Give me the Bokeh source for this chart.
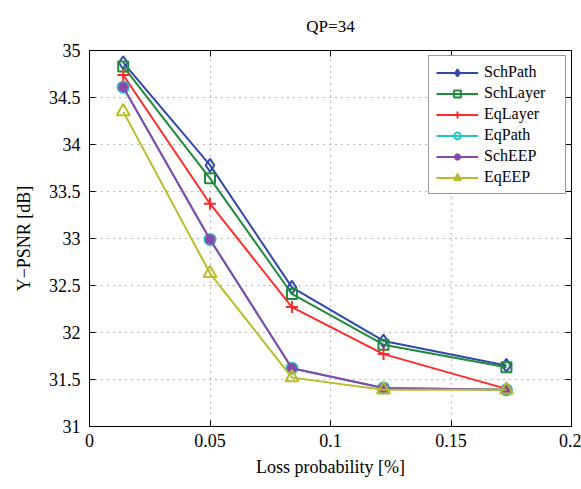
from bokeh.plotting import figure
from bokeh.models import FixedTicker, Legend, LegendItem, LinearAxis, Range1d
from bokeh.embed import file_html
from bokeh.resources import INLINE

x = [0.014, 0.05, 0.084, 0.122, 0.173]
sch_path = [34.87, 33.78, 32.48, 31.91, 31.65]
sch_layer = [34.83, 33.64, 32.41, 31.87, 31.63]
eq_layer = [34.74, 33.37, 32.27, 31.77, 31.40]
eq_path = [34.61, 32.99, 31.62, 31.41, 31.39]
sch_eep = [34.61, 32.99, 31.62, 31.41, 31.39]
eq_eep = [34.35, 32.63, 31.52, 31.39, 31.39]

series_names = ["SchPath", "SchLayer", "EqLayer", "EqPath", "SchEEP", "EqEEP"]
x_ticks = [0, 0.05, 0.1, 0.15, 0.2]
x_tick_labels = ["0", "0.05", "0.1", "0.15", "0.2"]
y_ticks = [31, 31.5, 32, 32.5, 33, 33.5, 34, 34.5, 35]
y_tick_labels = ["31", "31.5", "32", "32.5", "33", "33.5", "34", "34.5", "35"]

FONT = "Liberation Serif"

p = figure(width=581, height=489, output_backend="svg", toolbar_location=None,
           x_range=Range1d(0, 0.2), y_range=Range1d(31, 35),
           min_border_left=89, min_border_right=10, min_border_top=49, min_border_bottom=63)

p.title.text = "QP=34"
p.title.align = "center"
p.title.text_font = FONT
p.title.text_font_size = "17px"
p.title.text_font_style = "normal"
p.title.text_color = "black"
p.title.standoff = 29

p.outline_line_color = "black"
p.outline_line_width = 1
p.background_fill_color = "white"
p.border_fill_color = "white"

for ax in [p.xaxis[0], p.yaxis[0]]:
    ax.major_tick_in = 6
    ax.major_tick_out = 0
    ax.minor_tick_line_color = None
    ax.axis_line_color = "black"
    ax.major_tick_line_color = "black"
    ax.major_label_text_font = FONT
    ax.major_label_text_font_size = "18px"
    ax.major_label_text_color = "black"
    ax.axis_label_text_font = FONT
    ax.axis_label_text_font_size = "18px"
    ax.axis_label_text_font_style = "normal"
    ax.axis_label_text_color = "black"

p.xaxis[0].ticker = FixedTicker(ticks=x_ticks)
p.xaxis[0].major_label_overrides = dict(zip(x_ticks, x_tick_labels))
p.yaxis[0].ticker = FixedTicker(ticks=y_ticks)
p.yaxis[0].major_label_overrides = dict(zip(y_ticks, y_tick_labels))
p.xaxis[0].axis_label = "Loss probability [%]"
p.yaxis[0].axis_label = "Y\u2212PSNR [dB]"
p.xaxis[0].major_label_standoff = 7
p.yaxis[0].major_label_standoff = 9
p.xaxis[0].axis_label_standoff = 7
p.yaxis[0].axis_label_standoff = 12

top = LinearAxis(ticker=FixedTicker(ticks=x_ticks), major_label_text_font_size="0px",
                 major_tick_in=6, major_tick_out=0, minor_tick_line_color=None,
                 axis_line_color="black", major_label_standoff=0)
right = LinearAxis(ticker=FixedTicker(ticks=y_ticks), major_label_text_font_size="0px",
                   major_tick_in=6, major_tick_out=0, minor_tick_line_color=None,
                   axis_line_color="black", major_label_standoff=0)
top.major_label_text_alpha = 0
right.major_label_text_alpha = 0
p.add_layout(top, "above")
p.add_layout(right, "right")

p.xgrid.ticker = FixedTicker(ticks=x_ticks)
p.ygrid.ticker = FixedTicker(ticks=y_ticks)
for g in [p.xgrid[0], p.ygrid[0]]:
    g.grid_line_color = "#777777"
    g.grid_line_dash = "1 5"
    g.grid_line_width = 1

colors = ["#3049A8", "#1E8A3C", "#FF2A2A", "#22C4C4", "#8A45A8", "#B8BC2A"]
markers = ["diamond", "square", "cross", "circle", "asterisk", "triangle"]
sizes = [13, 10, 12, 11, 10, 13]
data = [sch_path, sch_layer, eq_layer, eq_path, sch_eep, eq_eep]

items = []
for name, ys, c, m, s in zip(series_names, data, colors, markers, sizes):
    ln = p.line(x, ys, line_color=c, line_width=2)
    lw = 3 if m == "asterisk" else 2
    sc = p.scatter(x, ys, marker=m, size=s, line_color=c, line_width=lw, fill_color=None)
    items.append(LegendItem(label=name, renderers=[ln, sc]))

legend = Legend(items=items, location="top_right")
legend.label_text_font = FONT
legend.label_text_font_size = "16px"
legend.label_text_color = "black"
legend.border_line_color = "#333333"
legend.border_line_width = 1.5
legend.glyph_width = 42
legend.glyph_height = 17
legend.label_height = 17
legend.label_width = 74
legend.spacing = 3
legend.padding = 7
legend.margin = 5
legend.label_standoff = 6
p.add_layout(legend)

open("out.html", "w").write(file_html(p, INLINE))
